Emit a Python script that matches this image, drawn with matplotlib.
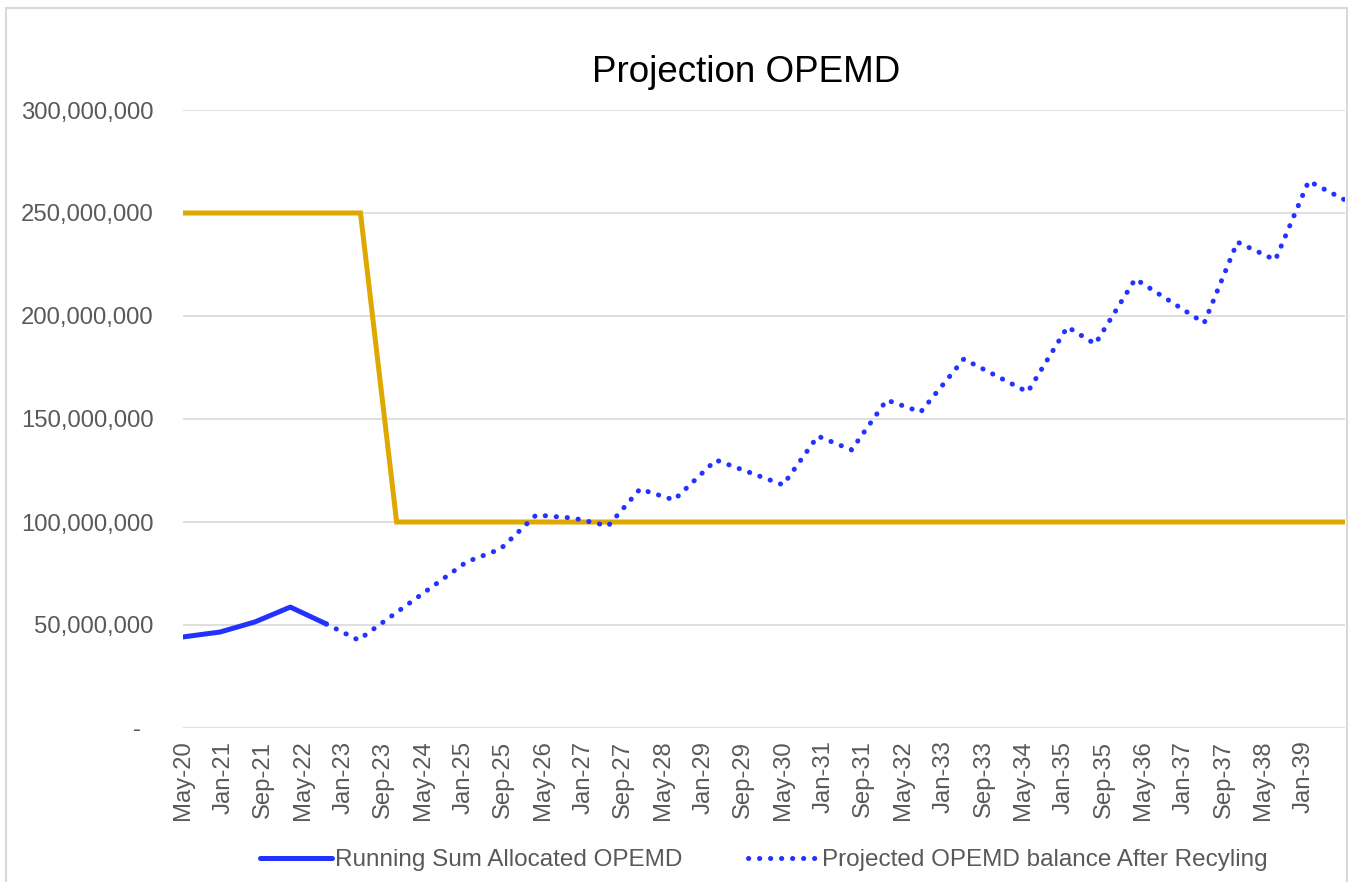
import matplotlib
matplotlib.use("Agg")
import matplotlib.pyplot as plt
import matplotlib.dates as mdates
import matplotlib.patches as mpatches
import pandas as pd
from matplotlib.ticker import FuncFormatter

# --- data (values in millions) ---
allocated_dates = ["2020-05-01", "2020-12-13", "2021-07-13", "2022-02-13", "2022-09-20"]
allocated_vals = [44.2, 46.6, 51.5, 58.7, 50.5]

projected_dates = [
    "2022-09-20", "2023-04-03", "2025-01-20", "2025-08-15", "2026-03-20",
    "2026-11-01", "2027-06-01", "2027-12-12", "2028-07-06", "2029-03-18",
    "2030-05-01", "2030-11-28", "2031-06-21", "2032-01-21", "2032-08-15",
    "2033-05-04", "2034-05-28", "2035-01-25", "2035-07-13", "2036-03-13",
    "2037-05-06", "2037-11-24", "2038-07-13", "2039-02-01", "2039-09-10",
]
projected_vals = [
    50.5, 42.7, 80.6, 86.9, 103.4,
    101.9, 98.1, 116.0, 110.7, 130.1,
    118.0, 141.7, 135.0, 159.2, 153.4,
    179.1, 163.1, 194.7, 186.4, 218.0,
    196.6, 235.9, 227.2, 265.5, 256.3,
]

cap_dates = ["2020-05-01", "2023-04-16", "2023-11-22", "2039-09-10"]
cap_vals = [250, 250, 100, 100]

x_start, x_end = "2020-05-01", "2039-09-10"
tick_dates = pd.date_range("2020-05-01", "2039-01-01", freq="8MS")

FONT = ["Liberation Sans", "DejaVu Sans"]
GRAY = "#595959"
BLUE = "#2233FF"
GOLD = "#DFA800"

plt.rcParams["font.family"] = FONT

fig = plt.figure(figsize=(13.5, 8.82), dpi=100)
ax = fig.add_axes([183 / 1350, 1 - 728 / 882, (1345 - 183) / 1350, (728 - 110) / 882])

# chart-area border
fig.patches.append(mpatches.Rectangle((6 / 1350, -0.01), (1347 - 6) / 1350, 1 - 7.5 / 882 + 0.01,
                                      transform=fig.transFigure, fill=False,
                                      edgecolor="#D9D9D9", linewidth=1.5))

to_dt = lambda d: pd.to_datetime(d)
scale = 1e6

ax.plot(to_dt(cap_dates), [v * scale for v in cap_vals], color=GOLD, linewidth=3.6,
        solid_joinstyle="miter", zorder=3)
ax.plot(to_dt(allocated_dates), [v * scale for v in allocated_vals], color=BLUE, linewidth=3.6,
        solid_capstyle="round", label="Running Sum Allocated OPEMD", zorder=4)
ax.plot(to_dt(projected_dates), [v * scale for v in projected_vals], color=BLUE, linewidth=3.6,
        linestyle=(0, (0.05, 2.15)), dash_capstyle="round",
        label="Projected OPEMD balance After Recyling", zorder=4)

ax.set_xlim(to_dt(x_start), to_dt(x_end))
ax.set_ylim(0, 300e6)
ax.set_yticks([i * 50e6 for i in range(7)])
ax.yaxis.set_major_formatter(FuncFormatter(lambda v, p: "-  " if v == 0 else f"{v:,.0f}"))
ax.set_xticks(tick_dates)
ax.xaxis.set_major_formatter(mdates.DateFormatter("%b-%y"))

ax.tick_params(axis="y", length=0, pad=21, labelsize=17.2, labelcolor=GRAY)
ax.tick_params(axis="x", length=0, pad=9, labelsize=17.2, labelcolor=GRAY, rotation=90)

ax.grid(axis="y", color="#D9D9D9", linewidth=1.2, zorder=0)
ax.set_axisbelow(True)
for s in ax.spines.values():
    s.set_visible(False)

fig.text(746 / 1350, 1 - 72 / 882, "Projection OPEMD", ha="center", va="center",
         fontsize=26.5, color="black")

leg = fig.legend(loc="center", bbox_to_anchor=(764 / 1350, 1 - 860 / 882), ncol=2,
                 frameon=False, fontsize=17.5, handlelength=2.95, handletextpad=0.12,
                 columnspacing=2.7, labelcolor=GRAY)

fig.savefig("out.png", dpi=100)
plt.close(fig)
